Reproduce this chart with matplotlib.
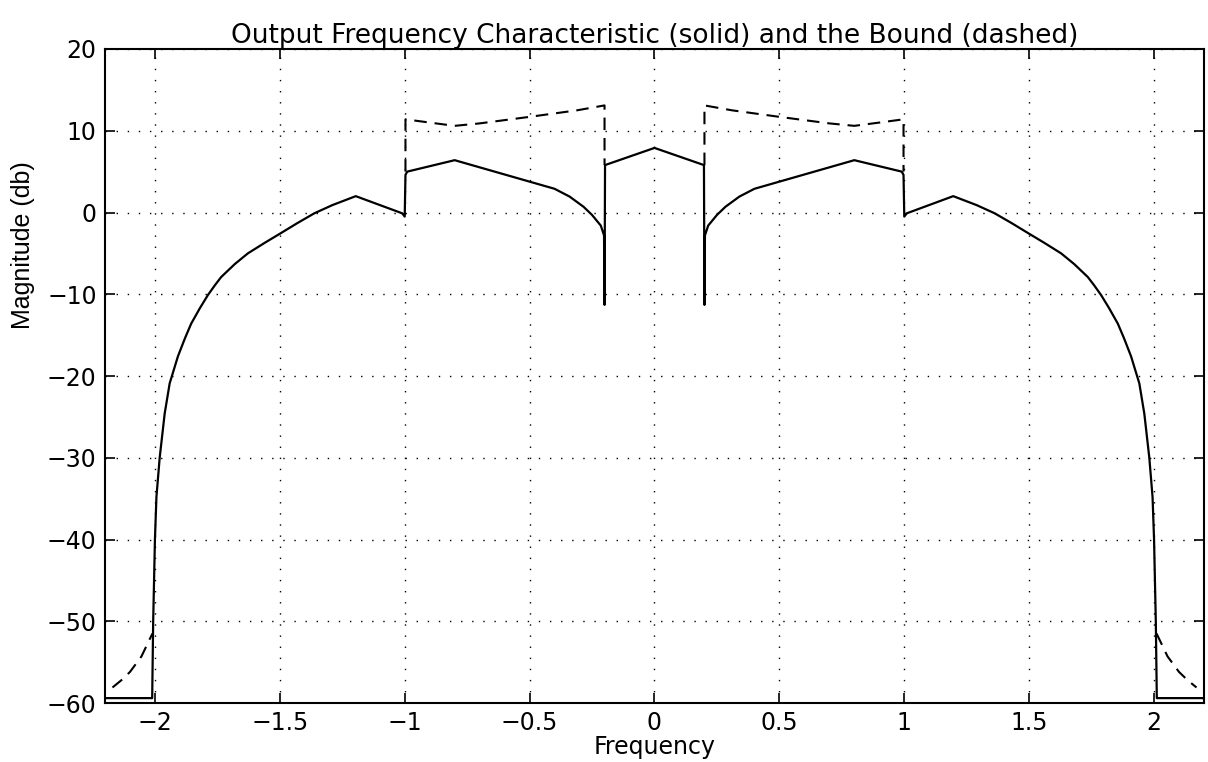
import numpy as np
import matplotlib
matplotlib.use("Agg")
import matplotlib.pyplot as plt

plt.rcParams['font.family'] = ['DejaVu Sans']

# output frequency characteristic (solid)
freq = [-2.2, -2.011, -2.007, -2.0, -1.994, -1.981, -1.961, -1.941, -1.908, -1.88,
        -1.855, -1.82, -1.788, -1.76, -1.735, -1.68, -1.628, -1.56, -1.5, -1.43,
        -1.362, -1.29, -1.196, -1.01, -1.0, -0.997, -0.99, -0.8, -0.4, -0.34,
        -0.284, -0.25, -0.215, -0.202, -0.2, -0.198,
        0.0,
        0.198, 0.2, 0.202, 0.215, 0.25, 0.284, 0.34, 0.4, 0.8,
        0.99, 0.997, 1.0, 1.01, 1.196, 1.29, 1.362, 1.43, 1.5, 1.56,
        1.628, 1.68, 1.735, 1.76, 1.788, 1.82, 1.855, 1.88, 1.908, 1.941,
        1.961, 1.981, 1.994, 2.0, 2.007, 2.011, 2.2]
mag = [-59.4, -59.4, -50.0, -40.0, -34.8, -30.0, -24.6, -20.9, -17.6, -15.4,
       -13.6, -11.7, -10.1, -8.9, -7.9, -6.3, -5.0, -3.7, -2.6, -1.3,
       -0.1, 0.9, 2.0, -0.1, -0.5, 4.6, 5.0, 6.4, 2.9, 1.95,
       0.7, -0.3, -1.6, -2.8, -11.3, 5.8,
       7.9,
       5.8, -11.3, -2.8, -1.6, -0.3, 0.7, 1.95, 2.9, 6.4,
       5.0, 4.6, -0.5, -0.1, 2.0, 0.9, -0.1, -1.3, -2.6, -3.7,
       -5.0, -6.3, -7.9, -8.9, -10.1, -11.7, -13.6, -15.4, -17.6, -20.9,
       -24.6, -30.0, -34.8, -40.0, -50.0, -59.4, -59.4]

# the bound (dashed), only where it leaves the solid curve; nan splits pieces
bound_freq = [-2.17, -2.134, -2.1, -2.054, -2.01, np.nan,
              -0.997, -0.997, -0.9, -0.8, -0.7, -0.5, -0.31, -0.2, -0.2, np.nan,
              0.2, 0.2, 0.31, 0.5, 0.7, 0.8, 0.9, 0.997, 0.997, np.nan,
              2.01, 2.054, 2.1, 2.134, 2.17]
bound_mag = [-58.1, -57.2, -56.2, -54.3, -51.5, np.nan,
             5.0, 11.4, 11.0, 10.6, 10.9, 11.7, 12.5, 13.1, 5.8, np.nan,
             5.8, 13.1, 12.5, 11.7, 10.9, 10.6, 11.0, 11.4, 5.0, np.nan,
             -51.5, -54.3, -56.2, -57.2, -58.1]

xticks = [-2, -1.5, -1, -0.5, 0, 0.5, 1, 1.5, 2]
xlabels = ['\u22122', '\u22121.5', '\u22121', '\u22120.5', '0', '0.5', '1', '1.5', '2']
yticks = [-60, -50, -40, -30, -20, -10, 0, 10, 20]
ylabels = ['\u221260', '\u221250', '\u221240', '\u221230', '\u221220', '\u221210', '0', '10', '20']

fig = plt.figure(figsize=(12.08, 7.62), dpi=100)
ax = fig.add_axes([0.0869, 0.0774, 0.9098, 0.8583])

ax.plot(freq, mag, color='black', lw=1.6)
ax.plot(bound_freq, bound_mag, color='black', lw=1.5, dashes=(6, 3.8))

ax.set_xlim(-2.2, 2.2)
ax.set_ylim(-60, 20)
ax.set_xticks(xticks)
ax.set_xticklabels(xlabels)
ax.set_yticks(yticks)
ax.set_yticklabels(ylabels)
ax.grid(True, color='black', linestyle=(0, (1, 7)), lw=1.0)
ax.tick_params(direction='in', length=7, width=1.2, top=True, right=True,
               labelsize=17, pad=6)
for s in ax.spines.values():
    s.set_linewidth(1.5)

ax.set_title('Output Frequency Characteristic (solid) and the Bound (dashed)',
             fontsize=19, pad=4)
ax.set_xlabel('Frequency', fontsize=17, labelpad=0)
ax.set_ylabel('Magnitude (db)', fontsize=18,
              family=['Liberation Sans Narrow', 'Liberation Sans'])
ax.yaxis.set_label_coords(-0.064, 0.70)

fig.savefig('out.png', dpi=100)
